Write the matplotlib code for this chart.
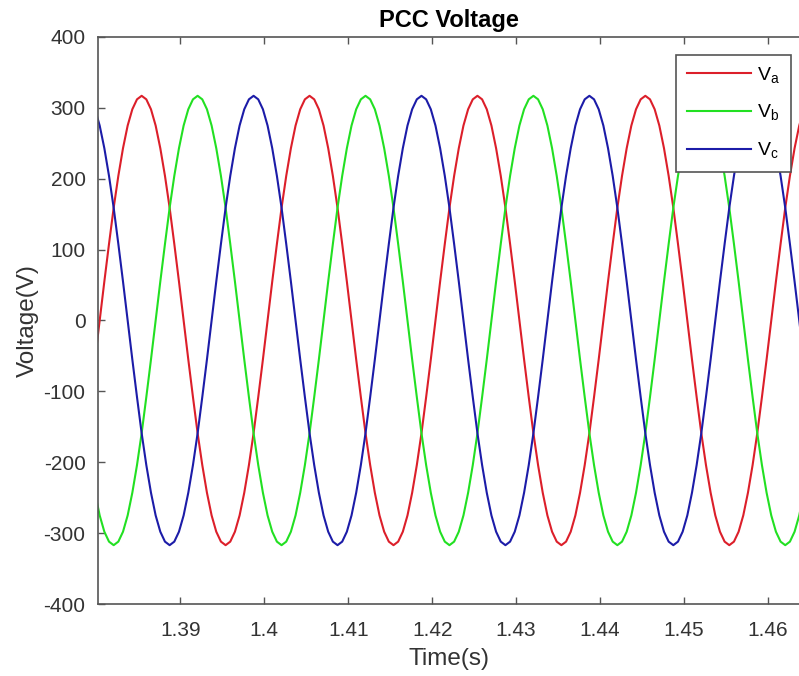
import matplotlib.pyplot as plt
import numpy as np

# sampled PCC phase voltages (V), one sample every 1/1800 s starting at t_start
t_start = 1.37984
t_step = 1.0 / 1800

va = [-55,
      0, 55, 108, 159, 204, 243, 275, 298, 312, 317, 312, 298, 275, 243, 204, 159, 108, 55,
      0, -55, -108, -159, -204, -243, -275, -298, -312, -317, -312, -298, -275, -243, -204, -159, -108, -55,
      0, 55, 108, 159, 204, 243, 275, 298, 312, 317, 312, 298, 275, 243, 204, 159, 108, 55,
      0, -55, -108, -159, -204, -243, -275, -298, -312, -317, -312, -298, -275, -243, -204, -159, -108, -55,
      0, 55, 108, 159, 204, 243, 275, 298, 312, 317, 312, 298, 275, 243, 204, 159, 108, 55,
      0, -55, -108, -159, -204, -243, -275, -298, -312, -317, -312, -298, -275, -243, -204, -159, -108, -55,
      0, 55, 108, 159, 204, 243, 275, 298, 312, 317, 312, 298, 275, 243, 204, 159, 108, 55,
      0, -55, -108, -159, -204, -243, -275, -298, -312, -317, -312, -298, -275, -243, -204, -159, -108, -55,
      0, 55, 108, 159, 204, 243, 275, 298]

vb = [-243, -275, -298, -312, -317, -312, -298, -275, -243, -204, -159, -108, -55,
      0, 55, 108, 159, 204, 243, 275, 298, 312, 317, 312, 298, 275, 243, 204, 159, 108, 55,
      0, -55, -108, -159, -204, -243, -275, -298, -312, -317, -312, -298, -275, -243, -204, -159, -108, -55,
      0, 55, 108, 159, 204, 243, 275, 298, 312, 317, 312, 298, 275, 243, 204, 159, 108, 55,
      0, -55, -108, -159, -204, -243, -275, -298, -312, -317, -312, -298, -275, -243, -204, -159, -108, -55,
      0, 55, 108, 159, 204, 243, 275, 298, 312, 317, 312, 298, 275, 243, 204, 159, 108, 55,
      0, -55, -108, -159, -204, -243, -275, -298, -312, -317, -312, -298, -275, -243, -204, -159, -108, -55,
      0, 55, 108, 159, 204, 243, 275, 298, 312, 317, 312, 298, 275, 243, 204, 159, 108, 55,
      0, -55, -108, -159, -204, -243, -275, -298, -312, -317, -312, -298, -275, -243]

vc = [298, 275, 243, 204, 159, 108, 55,
      0, -55, -108, -159, -204, -243, -275, -298, -312, -317, -312, -298, -275, -243, -204, -159, -108, -55,
      0, 55, 108, 159, 204, 243, 275, 298, 312, 317, 312, 298, 275, 243, 204, 159, 108, 55,
      0, -55, -108, -159, -204, -243, -275, -298, -312, -317, -312, -298, -275, -243, -204, -159, -108, -55,
      0, 55, 108, 159, 204, 243, 275, 298, 312, 317, 312, 298, 275, 243, 204, 159, 108, 55,
      0, -55, -108, -159, -204, -243, -275, -298, -312, -317, -312, -298, -275, -243, -204, -159, -108, -55,
      0, 55, 108, 159, 204, 243, 275, 298, 312, 317, 312, 298, 275, 243, 204, 159, 108, 55,
      0, -55, -108, -159, -204, -243, -275, -298, -312, -317, -312, -298, -275, -243, -204, -159, -108, -55,
      0, 55, 108, 159, 204, 243, 275, 298, 312, 317, 312, 298, 275, 243, 204, 159, 108, 55,
      0, -55]

x_ticks = [1.39, 1.40, 1.41, 1.42, 1.43, 1.44, 1.45, 1.46]
x_tick_labels = ["1.39", "1.4", "1.41", "1.42", "1.43", "1.44", "1.45", "1.46"]
y_ticks = [-400, -300, -200, -100, 0, 100, 200, 300, 400]

t = t_start + t_step * np.arange(len(va))

plt.rcParams['font.family'] = ['Liberation Sans', 'DejaVu Sans']
plt.rcParams['axes.unicode_minus'] = False

fig = plt.figure(figsize=(7.99, 6.76), dpi=100)
ax = fig.add_axes([0.1227, 0.1065, 0.8773, 0.8388])

ax.plot(t, va, color='#dc1f2a', linewidth=1.5, label=r'V$_\mathregular{a}$')
ax.plot(t, vb, color='#22e022', linewidth=1.5, label=r'V$_\mathregular{b}$')
ax.plot(t, vc, color='#1c1ca8', linewidth=1.5, label=r'V$_\mathregular{c}$')

ax.set_xlim(1.3802, 1.4637)
ax.set_ylim(-400, 400)
ax.set_xticks(x_ticks)
ax.set_xticklabels(x_tick_labels)
ax.set_yticks(y_ticks)

for s in ax.spines.values():
    s.set_color('#555555')
    s.set_linewidth(1.2)
ax.spines['right'].set_visible(False)
ax.tick_params(direction='in', length=5, width=1, colors='#555555',
               labelcolor='#333333', labelsize=15, top=True, right=False)
ax.tick_params(axis='x', pad=12)
ax.tick_params(axis='y', pad=9)

ax.set_title('PCC Voltage', fontsize=17, fontweight='bold', pad=7)
ax.set_xlabel('Time(s)', fontsize=17.5, color='#333333', labelpad=6)
ax.set_ylabel('Voltage(V)', fontsize=17.5, color='#333333', labelpad=3)

leg = ax.legend(loc='upper right', bbox_to_anchor=(0.988, 0.969), fontsize=14,
                frameon=True, fancybox=False, framealpha=1, edgecolor='#555555',
                handlelength=3.3, handletextpad=0.3, labelspacing=0.9,
                borderpad=0.55, borderaxespad=0)
leg.get_frame().set_linewidth(1.2)

fig.savefig('out.png', dpi=100)
